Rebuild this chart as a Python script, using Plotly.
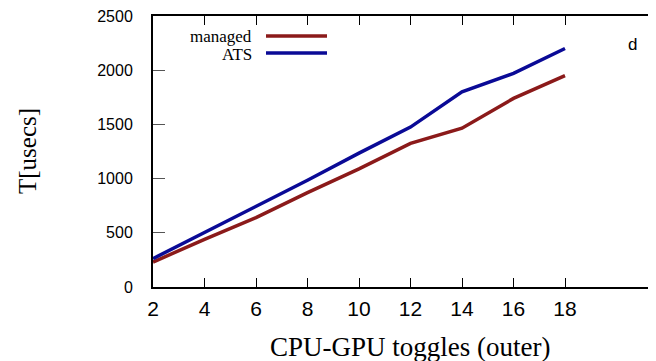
import plotly.graph_objects as go

toggles = [2, 4, 6, 8, 10, 12, 14, 16, 18]
managed = [230, 440, 640, 870, 1090, 1325, 1465, 1740, 1950]
ats = [262, 500, 740, 985, 1235, 1475, 1800, 1970, 2200]
x_ticks = [2, 4, 6, 8, 10, 12, 14, 16, 18]
y_ticks = [0, 500, 1000, 1500, 2000, 2500]

RED = "#8b1a1a"
BLUE = "#0a0a96"
SERIF = "Liberation Serif, Times New Roman, serif"
SANS = "Liberation Sans, Arial, sans-serif"

OFF = 8  # default page body margin
W, H = 656 - OFF, 361 - OFF
# plot area in page pixels: left 153, top 16, bottom 287, right 656
L, T = 153 - OFF, 16 - OFF
B = H - (287 - OFF)
R = 0
pw, ph = W - L - R, H - T - B


def px(xp):
    return (xp - OFF - L) / pw


def py(yp):
    return (H - B - (yp - OFF)) / ph


fig = go.Figure()
fig.add_trace(go.Scatter(x=toggles, y=managed, mode="lines", name="managed",
                         line=dict(color=RED, width=3.5), showlegend=False))
fig.add_trace(go.Scatter(x=toggles, y=ats, mode="lines", name="ATS",
                         line=dict(color=BLUE, width=3.5), showlegend=False))

x_max = 2 + pw / 25.75

fig.update_layout(
    width=W, height=H,
    margin=dict(l=L, r=R, t=T, b=B),
    plot_bgcolor="white", paper_bgcolor="white",
    xaxis=dict(range=[2, x_max], tickvals=x_ticks, ticktext=[str(v) for v in x_ticks],
               showline=True, linecolor="black", linewidth=2, mirror="allticks",
               ticks="inside", ticklen=9, tickcolor="black", tickwidth=1.2,
               showgrid=False, zeroline=False,
               tickfont=dict(family=SANS, size=21, color="black"),
               ticklabelstandoff=2, ticklabeloverflow="allow"),
    yaxis=dict(range=[0, 2500], tickvals=y_ticks,
               showline=True, linecolor="black", linewidth=2, mirror=False,
               ticks="inside", ticklen=12, tickcolor="#555", tickwidth=1.2,
               showgrid=False, zeroline=False,
               tickfont=dict(family=SANS, size=16, color="black"),
               ticklabelstandoff=15, ticklabeloverflow="allow"),
)

annotations = [
    dict(text="CPU-GPU toggles (outer)", x=px(410), y=py(347), xref="paper", yref="paper",
         xanchor="center", yanchor="middle", showarrow=False,
         font=dict(family=SERIF, size=27, color="black")),
    dict(text="T[usecs]", x=px(27), y=py(151), xref="paper", yref="paper",
         xanchor="center", yanchor="middle", showarrow=False, textangle=-90,
         font=dict(family=SERIF, size=25, color="black")),
    dict(text="managed", x=px(254), y=py(37), xref="paper", yref="paper",
         xanchor="right", yanchor="middle", showarrow=False,
         font=dict(family=SERIF, size=17, color="black")),
    dict(text="ATS", x=px(254), y=py(54), xref="paper", yref="paper",
         xanchor="right", yanchor="middle", showarrow=False,
         font=dict(family=SERIF, size=17, color="black")),
    dict(text="d", x=px(632), y=py(44), xref="paper", yref="paper",
         xanchor="center", yanchor="middle", showarrow=False,
         font=dict(family=SANS, size=17, color="black")),
]
fig.update_layout(annotations=annotations)

fig.add_shape(type="line", xref="paper", yref="paper", x0=px(266), x1=px(327),
              y0=py(36), y1=py(36), line=dict(color=RED, width=3.5))
fig.add_shape(type="line", xref="paper", yref="paper", x0=px(266), x1=px(327),
              y0=py(53), y1=py(53), line=dict(color=BLUE, width=3.5))

fig.write_html("out.html")
